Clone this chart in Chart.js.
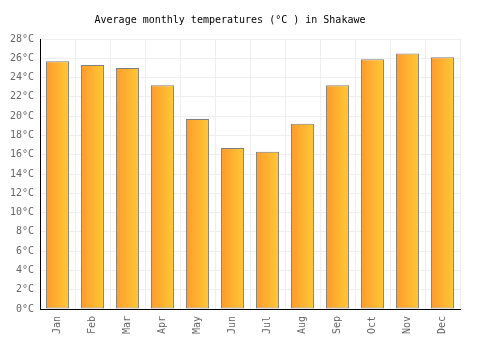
<!DOCTYPE html>
<html><head><meta charset="utf-8">
<script src="https://cdn.jsdelivr.net/npm/chart.js@4"></script>
<style>html,body{margin:0;padding:0;background:#fff}#w{width:500px;height:350px}</style>
</head><body><div id="w"><canvas id="c"></canvas></div>
<script>
const categories = ["Jan","Feb","Mar","Apr","May","Jun","Jul","Aug","Sep","Oct","Nov","Dec"];
const temperatures = [25.7, 25.3, 25.0, 23.2, 19.7, 16.7, 16.3, 19.2, 23.2, 25.9, 26.5, 26.1];
const yMin = 0, yMax = 28, yStep = 2;
const titleText = "Average monthly temperatures (°C ) in Shakawe";
const FONT = "'DejaVu Sans Mono', monospace";

function barGradient(context) {
  const chart = context.chart;
  const xs = chart.scales && chart.scales.x;
  if (!chart.chartArea || !xs) return '#ffb030';
  const cx = xs.getPixelForValue(context.dataIndex);
  const half = xs.width / categories.length * 0.66 / 2;
  const g = chart.ctx.createLinearGradient(cx - half, 0, cx + half, 0);
  g.addColorStop(0, '#ff9a2e');
  g.addColorStop(1, '#ffc934');
  return g;
}

new Chart(document.getElementById('c'), {
  type: 'bar',
  data: {
    labels: categories,
    datasets: [{
      data: temperatures,
      backgroundColor: barGradient,
      borderColor: '#7f7f7f',
      borderWidth: 1,
      borderSkipped: false,
      categoryPercentage: 1,
      barPercentage: 0.66
    }]
  },
  options: {
    responsive: true,
    maintainAspectRatio: false,
    animation: false,
    layout: { padding: { left: 0, right: 40, top: 0, bottom: 0 } },
    plugins: {
      legend: { display: false },
      tooltip: { enabled: false },
      title: {
        display: true,
        text: titleText,
        color: '#000',
        font: { family: FONT, size: 10, weight: 'normal' },
        padding: { top: 14, bottom: 13 }
      }
    },
    scales: {
      x: {
        grid: { color: '#eeeeee', drawTicks: false },
        border: { color: '#000', width: 1 },
        ticks: {
          color: '#666',
          font: { family: FONT, size: 10 },
          minRotation: 90, maxRotation: 90,
          padding: 7
        },
        afterFit(s) { s.height = 41; }
      },
      y: {
        min: yMin, max: yMax,
        grid: { color: '#eeeeee', drawTicks: false },
        border: { color: '#000', width: 1 },
        ticks: {
          stepSize: yStep,
          color: '#666',
          font: { family: FONT, size: 10 },
          padding: 6,
          callback: v => v + '°C'
        },
        afterFit(s) { s.width = 40; }
      }
    }
  }
});
</script></body></html>
